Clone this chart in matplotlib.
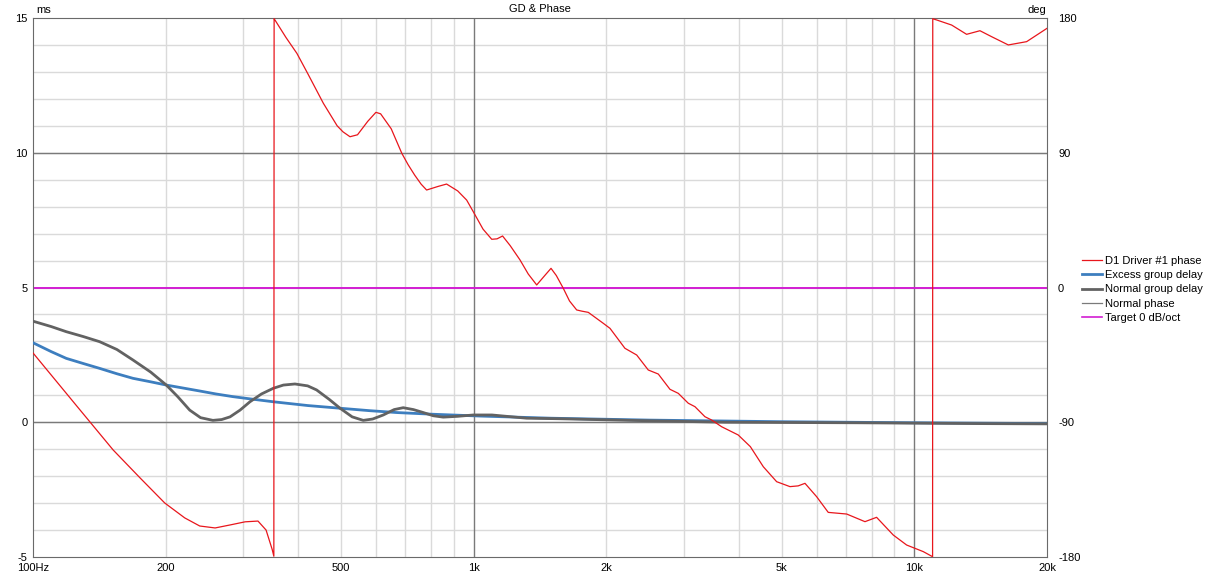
import matplotlib as mpl
import matplotlib.pyplot as plt
from matplotlib.lines import Line2D
from matplotlib.ticker import FixedLocator, NullFormatter

# D1 Driver #1 phase (Hz, deg) - wraps at about 352 Hz and 11 kHz
phase_f = [100, 125, 152, 175, 199, 221, 239, 259, 280, 303, 324, 338, 349,
           352, 352.5, 354, 375, 397, 420, 456, 490, 505, 524, 545, 575, 600,
           615, 650, 687, 710, 735, 760, 782, 830, 868, 920, 964, 998, 1050,
           1099, 1130, 1163, 1210, 1274, 1330, 1390, 1450, 1498, 1540, 1597,
           1650, 1713, 1760, 1820, 1968, 2039, 2204, 2344, 2490, 2624, 2789,
           2913, 3069, 3178, 3348, 3467, 3654, 3984, 4245, 4542, 4870, 5221,
           5450, 5647, 6001, 6377, 7022, 7726, 8210, 8955, 9605, 10476, 11000,
           11010, 11233, 12150, 13140, 14090, 14980, 16340, 17980, 20000]
phase_deg = [-43.7, -78.3, -108.5, -127.2, -143.9, -153.9, -159.3, -160.6,
             -158.6, -156.5, -156, -162, -175, -179.5, 179.5, 178.7, 167,
             156.4, 143, 123, 108, 104, 100.7, 102, 111, 117, 116, 106, 89.6,
             82, 75, 69, 65.1, 67.5, 69.1, 64.5, 58.4, 50.6, 39, 32.2, 32.5,
             34.4, 28, 18.4, 9, 1.7, 8, 12.8, 8, -0.5, -9, -15, -15.8, -16.6,
             -23.9, -27.3, -40.6, -45.1, -55.1, -57.8, -68, -70.7, -77.3,
             -79.6, -86.3, -88.5, -93, -98.5, -106.3, -119.7, -129.7, -133,
             -132.5, -130.8, -139.7, -150.2, -151.3, -156.4, -153.5, -165.3,
             -172, -176.4, -179.8, 179.5, 178.7, 175.3, 169.1, 171.5, 167.5,
             162, 164.2, 173.1]

# Normal group delay (Hz, ms)
ngd_f = [100, 110, 119, 130, 141.6, 155, 168.6, 185, 200.7, 213, 226.8, 240,
         256, 268, 280, 295, 310.7, 330, 351, 370, 393, 420, 440, 470, 497.5,
         530, 561.6, 590, 623.6, 660, 692, 730, 768.5, 810, 853, 920, 998,
         1100, 1319, 1570, 2255, 3730, 7526, 14090, 20000]
ngd_ms = [3.75, 3.55, 3.36, 3.18, 2.99, 2.7, 2.31, 1.86, 1.38, 0.95, 0.45,
          0.17, 0.07, 0.1, 0.2, 0.45, 0.76, 1.05, 1.26, 1.38, 1.42, 1.35, 1.2,
          0.85, 0.52, 0.2, 0.07, 0.12, 0.27, 0.47, 0.54, 0.47, 0.36, 0.24,
          0.19, 0.22, 0.27, 0.27, 0.15, 0.13, 0.07, 0.0, -0.02, -0.05, -0.06]

# Excess group delay (Hz, ms)
egd_f = [100, 110, 119, 130, 141.6, 155, 168.6, 185, 200.7, 238.9, 260, 284.3,
         310, 351, 420, 497.5, 580, 668.9, 800, 1033, 1500, 2500, 5000, 10000,
         20000]
egd_ms = [2.95, 2.62, 2.37, 2.18, 2.0, 1.8, 1.63, 1.5, 1.38, 1.16, 1.05, 0.95,
          0.87, 0.76, 0.62, 0.52, 0.43, 0.36, 0.3, 0.23, 0.15, 0.08, 0.02,
          -0.02, -0.05]

target_f = [100, 20000]
target_ms = [5, 5]

xticks = [100, 200, 500, 1000, 2000, 5000, 10000, 20000]
xlabels = ['100Hz', '200', '500', '1k', '2k', '5k', '10k', '20k']

mpl.rcParams.update({'font.size': 8, 'axes.unicode_minus': False,
                     'font.family': ['Liberation Sans', 'DejaVu Sans']})

dpi = 100
fig = plt.figure(dpi=dpi, figsize=(1210 / dpi, 577 / dpi))
ax = fig.add_axes([33 / 1210, 20 / 577, 1014 / 1210, 539 / 577])

ax.set_xscale('log')
ax.set_xlim(100, 20000)
ax.set_ylim(-5, 15)

# grid
minor_x = [f * m for f in (100, 1000, 10000) for m in range(2, 10) if f * m < 20000]
ax.xaxis.set_major_locator(FixedLocator(xticks))
ax.xaxis.set_minor_locator(FixedLocator(minor_x))
ax.xaxis.set_minor_formatter(NullFormatter())
ax.set_xticklabels(xlabels)
ax.set_yticks([-5, 0, 5, 10, 15])
for y in range(-4, 15):
    ax.axhline(y, color='#dadada', lw=1, zorder=0)
for f in minor_x:
    ax.axvline(f, color='#dadada', lw=1, zorder=0)
for y in (0, 10):
    ax.axhline(y, color='#7a7a7a', lw=1, zorder=0.5)
for f in (1000, 10000):
    ax.axvline(f, color='#7a7a7a', lw=1, zorder=0.5)
ax.tick_params(which='both', length=0)
ax.tick_params(axis='x', pad=4)
ax.tick_params(axis='y', pad=4)
for s in ax.spines.values():
    s.set_color('#6a6a6a')

ax.plot(target_f, target_ms, color='#d21ed2', lw=1.4, zorder=2)
ax.plot(egd_f, egd_ms, color='#3d7ebf', lw=2.0, zorder=3)
ax.plot(ngd_f, ngd_ms, color='#626262', lw=2.0, zorder=4)

ax2 = ax.twinx()
ax2.set_ylim(-180, 180)
ax2.set_yticks([-180, -90, 0, 90, 180])
ax2.tick_params(length=0, pad=8)
for s in ax2.spines.values():
    s.set_visible(False)
ax2.plot(phase_f, phase_deg, color='#e8161c', lw=0.9, zorder=5)

ax.set_title('GD & Phase', fontsize=8, pad=4)
fig.text(36 / 1210, 1 - 10 / 577, 'ms', ha='left', va='center')
fig.text(1046 / 1210, 1 - 10 / 577, 'deg', ha='right', va='center')

handles = [
    Line2D([], [], color='#e8161c', lw=0.9),
    Line2D([], [], color='#3d7ebf', lw=2.0),
    Line2D([], [], color='#626262', lw=2.0),
    Line2D([], [], color='#7a7a7a', lw=0.9),
    Line2D([], [], color='#d21ed2', lw=1.2),
]
names = ['D1 Driver #1 phase', 'Excess group delay', 'Normal group delay',
         'Normal phase', 'Target 0 dB/oct']
fig.legend(handles, names, loc='upper left', bbox_to_anchor=(1076 / 1210, 1 - 250 / 577),
           frameon=False, handlelength=1.8, handletextpad=0.3, labelspacing=0.4,
           borderpad=0, fontsize=8)

fig.savefig('out.png', dpi=dpi)
